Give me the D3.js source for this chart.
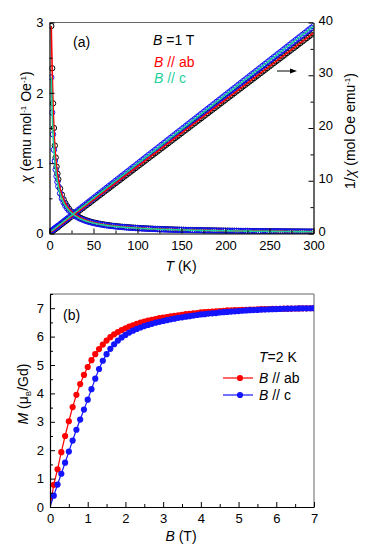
<!DOCTYPE html>
<html><head><meta charset="utf-8">
<script src="https://cdn.jsdelivr.net/npm/d3@7"></script>
<style>body{margin:0;background:#fff}svg{display:block;font-family:"Liberation Sans",Arial,sans-serif}</style>
</head><body>
<script>
// ---- Panel (a) data: main temperature grid ----
const temps = [2,3,4,5,6,7,8,9,10,12,14,16,18,20,22,25,30,35,40,45,50,55,60,65,70,75,80,85,90,95,100,105,110,115,120,125,130,135,140,145,150,155,160,165,170,175,180,185,190,195,200,205,210,215,220,225,230,235,240,245,250,255,260,265,270,275,280,285,290,295,300];
const chiAb = [2.95,2.35,1.85,1.50,1.25,1.08,0.95,0.85,0.77,0.64,0.553,0.485,0.431,0.389,0.354,0.312,0.260,0.224,0.196,0.175,0.157,0.143,0.131,0.121,0.112,0.105,0.098,0.093,0.0875,0.083,0.079,0.075,0.0716,0.0685,0.0657,0.0631,0.0606,0.0584,0.0563,0.0544,0.0526,0.0509,0.0493,0.0478,0.0464,0.0451,0.0438,0.0426,0.0415,0.0405,0.0394,0.0385,0.0376,0.0367,0.0359,0.0351,0.0343,0.0336,0.0329,0.0322,0.0316,0.0309,0.0303,0.0298,0.0292,0.0287,0.0282,0.0277,0.0272,0.0268,0.0263];
const chiC = [2.22,1.72,1.41,1.19,1.03,0.908,0.812,0.734,0.670,0.570,0.496,0.440,0.394,0.358,0.327,0.290,0.244,0.210,0.185,0.165,0.149,0.136,0.125,0.115,0.107,0.100,0.0941,0.0887,0.0839,0.0795,0.0756,0.0720,0.0688,0.0659,0.0632,0.0606,0.0583,0.0562,0.0542,0.0524,0.0506,0.0490,0.0475,0.0461,0.0447,0.0435,0.0423,0.0411,0.0401,0.0390,0.0381,0.0371,0.0363,0.0354,0.0346,0.0339,0.0331,0.0324,0.0318,0.0311,0.0305,0.0299,0.0293,0.0288,0.0283,0.0277,0.0272,0.0268,0.0263,0.0259,0.0254];
const invAb = [0.34,0.43,0.54,0.67,0.80,0.92,1.05,1.18,1.30,1.56,1.81,2.06,2.32,2.57,2.82,3.20,3.84,4.47,5.10,5.73,6.37,7.00,7.63,8.27,8.90,9.53,10.16,10.80,11.43,12.06,12.70,13.33,13.96,14.60,15.23,15.86,16.49,17.13,17.76,18.39,19.03,19.66,20.29,20.92,21.56,22.19,22.82,23.46,24.09,24.72,25.35,25.99,26.62,27.25,27.89,28.52,29.15,29.78,30.42,31.05,31.68,32.32,32.95,33.58,34.22,34.85,35.48,36.11,36.75,37.38,38.01];
const invC = [0.45,0.58,0.71,0.84,0.97,1.10,1.23,1.36,1.49,1.75,2.01,2.28,2.54,2.80,3.06,3.45,4.10,4.75,5.40,6.06,6.71,7.36,8.01,8.66,9.32,9.97,10.62,11.27,11.92,12.58,13.23,13.88,14.53,15.18,15.83,16.49,17.14,17.79,18.44,19.10,19.75,20.40,21.05,21.70,22.36,23.01,23.66,24.31,24.96,25.61,26.27,26.92,27.57,28.22,28.87,29.53,30.18,30.83,31.48,32.13,32.79,33.44,34.09,34.74,35.39,36.05,36.70,37.35,38.00,38.66,39.31];
// ---- Panel (a) data: in-between temperatures ----
const temps2 = [27.5,32.5,37.5,42.5,47.5,52.5,57.5,62.5,67.5,72.5,77.5,82.5,87.5,92.5,97.5,102.5,107.5,112.5,117.5,122.5,127.5,132.5,137.5,142.5,147.5,152.5,157.5,162.5,167.5,172.5,177.5,182.5,187.5,192.5,197.5,202.5,207.5,212.5,217.5,222.5,227.5,232.5,237.5,242.5,247.5,252.5,257.5,262.5,267.5,272.5,277.5,282.5,287.5,292.5,297.5];
const chiAb2 = [0.284,0.241,0.209,0.185,0.165,0.150,0.137,0.126,0.117,0.108,0.1015,0.0954,0.090,0.0851,0.0808,0.0769,0.0733,0.0700,0.0671,0.0644,0.0618,0.0595,0.0573,0.0553,0.0534,0.0517,0.0501,0.0485,0.0471,0.0457,0.0444,0.0432,0.0421,0.0410,0.0399,0.0390,0.0380,0.0371,0.0363,0.0355,0.0347,0.0339,0.0332,0.0325,0.0319,0.0313,0.0306,0.0301,0.0295,0.0290,0.0284,0.0279,0.0274,0.0270,0.0265];
const chiC2 = [0.265,0.226,0.197,0.175,0.157,0.142,0.130,0.120,0.111,0.104,0.0972,0.0913,0.0862,0.0816,0.0775,0.0738,0.0704,0.0673,0.0645,0.0619,0.0595,0.0573,0.0552,0.0533,0.0515,0.0498,0.0483,0.0468,0.0454,0.0441,0.0429,0.0417,0.0406,0.0395,0.0385,0.0376,0.0367,0.0359,0.0350,0.0342,0.0335,0.0328,0.0321,0.0314,0.0308,0.0302,0.0296,0.0291,0.0285,0.0280,0.0275,0.0270,0.0266,0.0261,0.0257];
const invAb2 = [3.52,4.15,4.78,5.42,6.05,6.68,7.32,7.95,8.58,9.22,9.85,10.48,11.11,11.75,12.38,13.01,13.65,14.28,14.91,15.54,16.18,16.81,17.44,18.08,18.71,19.34,19.97,20.61,21.24,21.87,22.51,23.14,23.77,24.41,25.04,25.67,26.30,26.94,27.57,28.20,28.84,29.47,30.10,30.73,31.37,32.00,32.63,33.27,33.90,34.53,35.16,35.80,36.43,37.06,37.70];
const invC2 = [3.77,4.43,5.08,5.73,6.38,7.03,7.69,8.34,8.99,9.64,10.29,10.95,11.60,12.25,12.90,13.55,14.21,14.86,15.51,16.16,16.81,17.46,18.12,18.77,19.42,20.07,20.72,21.38,22.03,22.68,23.33,23.98,24.64,25.29,25.94,26.59,27.24,27.89,28.55,29.20,29.85,30.50,31.15,31.81,32.46,33.11,33.76,34.41,35.07,35.72,36.37,37.02,37.67,38.33,38.98];
const tTicks = [0,50,100,150,200,250,300];
const chiTicks = [0,1,2,3];
const invTicks = [0,10,20,30,40];

// ---- Panel (b) data ----
const fields = [0,0.1,0.2,0.3,0.4,0.5,0.6,0.7,0.8,0.9,1.0,1.1,1.2,1.3,1.4,1.5,1.6,1.7,1.8,1.9,2.0,2.1,2.2,2.3,2.4,2.5,2.6,2.7,2.8,2.9,3.0,3.1,3.2,3.3,3.4,3.5,3.6,3.7,3.8,3.9,4.0,4.1,4.2,4.3,4.4,4.5,4.6,4.7,4.8,4.9,5.0,5.1,5.2,5.3,5.4,5.5,5.6,5.7,5.8,5.9,6.0,6.1,6.2,6.3,6.4,6.5,6.6,6.7,6.8,6.9,7.0];
const mAb = [0,0.78,1.33,1.93,2.50,3.02,3.52,3.95,4.33,4.65,4.93,5.17,5.38,5.56,5.72,5.86,5.98,6.08,6.16,6.23,6.29,6.35,6.40,6.45,6.49,6.53,6.56,6.59,6.62,6.65,6.67,6.69,6.71,6.73,6.75,6.77,6.79,6.80,6.82,6.83,6.85,6.86,6.87,6.88,6.89,6.90,6.91,6.92,6.925,6.93,6.935,6.94,6.945,6.95,6.955,6.96,6.965,6.97,6.972,6.975,6.978,6.98,6.982,6.985,6.987,6.99,6.992,6.994,6.996,6.998,7.0];
const mC = [0,0.40,0.79,1.17,1.56,1.95,2.34,2.72,3.08,3.43,3.78,4.15,4.52,4.86,5.15,5.38,5.57,5.73,5.86,5.97,6.06,6.14,6.21,6.27,6.32,6.37,6.41,6.45,6.49,6.52,6.55,6.58,6.61,6.63,6.66,6.68,6.70,6.72,6.74,6.76,6.78,6.79,6.81,6.82,6.83,6.85,6.86,6.87,6.88,6.89,6.90,6.91,6.92,6.93,6.935,6.94,6.95,6.955,6.96,6.965,6.97,6.975,6.98,6.983,6.986,6.989,6.992,6.994,6.996,6.998,7.0];
const bTicks = [0,1,2,3,4,5,6,7];
const mTicks = [0,1,2,3,4,5,6,7];

const RED = "#ff0000", GREEN = "#1fcf9a", BLUE = "#1414ff";

const svg = d3.select("body").append("svg").attr("width",374).attr("height",555);
const defs = svg.append("defs");

function minorBetween(major, step){ const out=[]; for(let i=0;i<major.length-1;i++) out.push(major[i]+step); return out; }
function styleAxis(g){ g.selectAll("path.domain").attr("stroke","#000").attr("stroke-width",1.2);
  g.selectAll(".tick line").attr("stroke","#000").attr("stroke-width",1);
  g.selectAll("text").attr("font-size",13).attr("fill","#000").attr("font-family",'"Liberation Sans",Arial,sans-serif'); }

// ================= Panel (a) =================
const ax = d3.scaleLinear().domain([0,300]).range([49.5,313.5]);
const ayL = d3.scaleLinear().domain([0,3]).range([233.5,22.5]);
const ayR = d3.scaleLinear().domain([0,40]).range([233.5,22.5]);

defs.append("clipPath").attr("id","clipA").append("rect").attr("x",49.5).attr("y",22.5).attr("width",264).attr("height",211);
svg.append("line").attr("x1",49.5).attr("x2",313.5).attr("y1",22.5).attr("y2",22.5).attr("stroke","#666").attr("stroke-width",1);

const gA = svg.append("g").attr("clip-path","url(#clipA)");
const ab = temps.map((t,i)=>({t,chi:chiAb[i],inv:invAb[i]}))
  .concat(temps2.map((t,i)=>({t,chi:chiAb2[i],inv:invAb2[i]}))).sort((a,b)=>a.t-b.t);
const cc = temps.map((t,i)=>({t,chi:chiC[i],inv:invC[i]}))
  .concat(temps2.map((t,i)=>({t,chi:chiC2[i],inv:invC2[i]}))).sort((a,b)=>a.t-b.t);
function circles(data, key, yS, color){
  gA.append("g").selectAll("circle").data(data).join("circle")
    .attr("cx",d=>ax(d.t)).attr("cy",d=>yS(d[key])).attr("r",2.7)
    .attr("fill","none").attr("stroke",color).attr("stroke-width",1);
}
circles(ab,"chi",ayL,"#000"); circles(ab,"inv",ayR,"#000");
circles(cc,"chi",ayL,BLUE); circles(cc,"inv",ayR,BLUE);
function line(data,key,yS,color){
  gA.append("path").datum(data).attr("fill","none").attr("stroke",color).attr("stroke-width",1.6)
    .attr("d",d3.line().x(d=>ax(d.t)).y(d=>yS(d[key])).curve(d3.curveMonotoneX));
}
line(ab,"chi",ayL,RED); line(ab,"inv",ayR,RED);
line(cc,"chi",ayL,GREEN); line(cc,"inv",ayR,GREEN);

let g;
g = svg.append("g").attr("transform","translate(0,233.5)").call(d3.axisBottom(ax).tickValues(tTicks).tickSizeInner(-5).tickSizeOuter(0).tickPadding(7.5).tickFormat(d3.format("d"))); styleAxis(g);
g = svg.append("g").attr("transform","translate(0,233.5)").call(d3.axisBottom(ax).tickValues(minorBetween(tTicks,25)).tickSizeInner(-3).tickSizeOuter(0).tickFormat("")); styleAxis(g); g.select(".domain").remove();
g = svg.append("g").attr("transform","translate(49.5,0)").call(d3.axisLeft(ayL).tickValues(chiTicks).tickSizeInner(-5).tickSizeOuter(0).tickPadding(6).tickFormat(d3.format("d"))); styleAxis(g);
g = svg.append("g").attr("transform","translate(49.5,0)").call(d3.axisLeft(ayL).tickValues(minorBetween(chiTicks,0.5)).tickSizeInner(-3).tickSizeOuter(0).tickFormat("")); styleAxis(g); g.select(".domain").remove();
g = svg.append("g").attr("transform","translate(313.5,0)").call(d3.axisRight(ayR).tickValues(invTicks).tickSizeInner(-5).tickSizeOuter(0).tickPadding(5).tickFormat(d3.format("d"))); styleAxis(g);
g.selectAll(".tick text").attr("dy","0.12em");
g = svg.append("g").attr("transform","translate(313.5,0)").call(d3.axisRight(ayR).tickValues(minorBetween(invTicks,5)).tickSizeInner(-3).tickSizeOuter(0).tickFormat("")); styleAxis(g); g.select(".domain").remove();

function txt(x,y,fill,size){ return svg.append("text").attr("x",x).attr("y",y).attr("fill",fill||"#000").attr("font-size",size||13); }
let t = txt(181,271,"#000",14).attr("text-anchor","middle");
t.append("tspan").attr("font-style","italic").text("T"); t.append("tspan").text(" (K)");
t = svg.append("text").attr("transform","translate(31,127) rotate(-90)").attr("text-anchor","middle").attr("font-size",14);
t.append("tspan").attr("font-style","italic").text("χ"); t.append("tspan").text(" (emu mol");
t.append("tspan").attr("font-size",8).attr("dy",-5).text("-1"); t.append("tspan").attr("dy",5).text(" Oe");
t.append("tspan").attr("font-size",8).attr("dy",-5).text("-1"); t.append("tspan").attr("dy",5).text(")");
t = svg.append("text").attr("transform","translate(355,131) rotate(-90)").attr("text-anchor","middle").attr("font-size",14);
t.append("tspan").text("1/"); t.append("tspan").attr("font-style","italic").text("χ"); t.append("tspan").text(" (mol Oe emu");
t.append("tspan").attr("font-size",8).attr("dy",-5).text("-1"); t.append("tspan").attr("dy",5).text(")");

txt(73,47,"#000",14).text("(a)");
t = txt(153,45,"#000",14); t.append("tspan").attr("font-style","italic").text("B"); t.append("tspan").text(" =1 T");
t = txt(154,67,RED,14); t.append("tspan").attr("font-style","italic").text("B"); t.append("tspan").text(" // ab");
t = txt(154,83,GREEN,14); t.append("tspan").attr("font-style","italic").text("B"); t.append("tspan").text(" // c");
svg.append("line").attr("x1",277).attr("x2",292).attr("y1",71).attr("y2",71).attr("stroke","#000").attr("stroke-width",1);
svg.append("path").attr("d","M297,71 L290,68.5 L290,73.5 Z").attr("fill","#000");

// ================= Panel (b) =================
const bx = d3.scaleLinear().domain([0,7]).range([50,314]);
const by = d3.scaleLinear().domain([0,7.5]).range([507,294]);
defs.append("clipPath").attr("id","clipB").append("rect").attr("x",50).attr("y",294).attr("width",264).attr("height",213);
svg.append("line").attr("x1",50).attr("x2",314).attr("y1",294).attr("y2",294).attr("stroke","#666");
svg.append("line").attr("x1",314).attr("x2",314).attr("y1",294).attr("y2",507).attr("stroke","#666");

const gB = svg.append("g").attr("clip-path","url(#clipB)");
function mSeries(vals,color){
  const d = fields.map((b,i)=>({b,m:vals[i]}));
  gB.append("path").datum(d).attr("fill","none").attr("stroke",color).attr("stroke-width",1.2)
    .attr("d",d3.line().x(p=>bx(p.b)).y(p=>by(p.m)));
  gB.append("g").selectAll("circle").data(d.slice(1)).join("circle")
    .attr("cx",p=>bx(p.b)).attr("cy",p=>by(p.m)).attr("r",3.1).attr("fill",color);
}
mSeries(mAb,RED); mSeries(mC,BLUE);

g = svg.append("g").attr("transform","translate(0,507)").call(d3.axisBottom(bx).tickValues(bTicks).tickSizeInner(-5).tickSizeOuter(0).tickPadding(7).tickFormat(d3.format("d"))); styleAxis(g);
g = svg.append("g").attr("transform","translate(0,507)").call(d3.axisBottom(bx).tickValues(minorBetween(bTicks,0.5)).tickSizeInner(-3).tickSizeOuter(0).tickFormat("")); styleAxis(g); g.select(".domain").remove();
g = svg.append("g").attr("transform","translate(50,0)").call(d3.axisLeft(by).tickValues(mTicks).tickSizeInner(-5).tickSizeOuter(0).tickPadding(6).tickFormat(d3.format("d"))); styleAxis(g);
g = svg.append("g").attr("transform","translate(50,0)").call(d3.axisLeft(by).tickValues(minorBetween(mTicks,0.5).concat([7.5])).tickSizeInner(-3).tickSizeOuter(0).tickFormat("")); styleAxis(g); g.select(".domain").remove();

t = txt(181,541,"#000",14).attr("text-anchor","middle");
t.append("tspan").attr("font-style","italic").text("B"); t.append("tspan").text(" (T)");
t = svg.append("text").attr("transform","translate(28,394) rotate(-90)").attr("text-anchor","middle").attr("font-size",14);
t.append("tspan").attr("font-style","italic").text("M"); t.append("tspan").text(" (μ");
t.append("tspan").attr("font-size",8).attr("dy",3).text("B"); t.append("tspan").attr("dy",-3).text("/Gd)");

txt(63,320,"#000",14).text("(b)");
t = txt(259,362,"#000",14); t.append("tspan").attr("font-style","italic").text("T"); t.append("tspan").text("=2 K");
function legB(y,color,label){
  svg.append("line").attr("x1",223).attr("x2",253).attr("y1",y).attr("y2",y).attr("stroke",color).attr("stroke-width",1.2);
  svg.append("circle").attr("cx",240).attr("cy",y).attr("r",3.1).attr("fill",color);
  const tt = txt(259,y+5,"#000",14); tt.append("tspan").attr("font-style","italic").text("B"); tt.append("tspan").text(label);
}
legB(378,RED," // ab"); legB(395,BLUE," // c");
</script>
</body></html>
